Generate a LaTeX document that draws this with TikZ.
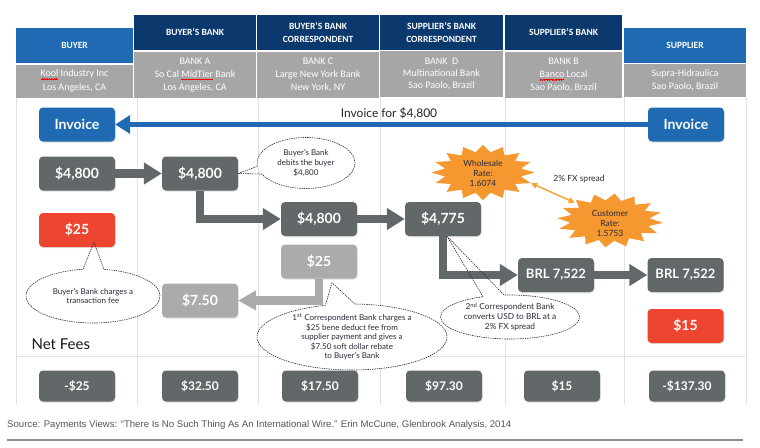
\documentclass[tikz,border=0pt]{standalone}
\usepackage{fontspec}
\setmainfont{Lato}
\newfontfamily\hdrfont{Carlito}
\newfontfamily\srcfont{Liberation Sans}
\usetikzlibrary{arrows.meta,shapes.geometric,shapes.callouts,shadows,calc}
\newsavebox\wbox
\newcommand\redwave[1]{\sbox\wbox{#1}\rlap{\raisebox{-2.6pt}[0pt][0pt]{\color{red}\leaders\hbox{\rule[0pt]{0.6pt}{0.45pt}\rule[0.4pt]{0.6pt}{0.45pt}\rule[0.8pt]{0.6pt}{0.45pt}\rule[0.4pt]{0.6pt}{0.45pt}}\hskip\wd\wbox}}#1}
\definecolor{hblue}{HTML}{1F6AB3}
\definecolor{hnavy}{HTML}{0B396E}
\definecolor{hgray}{HTML}{A6A6A6}
\definecolor{dgray}{HTML}{62676A}
\definecolor{lgray}{HTML}{ABABAB}
\definecolor{fred}{HTML}{EE4530}
\definecolor{sorange}{HTML}{F4982F}
\definecolor{aorange}{HTML}{F2A73C}
\definecolor{gridc}{HTML}{E2E2E2}
\definecolor{ctext}{HTML}{2B2B3B}
\definecolor{srcgray}{HTML}{555555}
\definecolor{rulegray}{HTML}{8C8C8C}
\begin{document}
\begin{tikzpicture}[x=1pt,y=-1pt,
  hdr/.style={rectangle, inner sep=0pt, text=white, align=center,
    font=\hdrfont\bfseries\fontsize{9.5}{13}\selectfont},
  sub/.style={rectangle, fill=hgray, inner sep=0pt, text=white, align=center,
    font=\hdrfont\fontsize{10}{13.3}\selectfont},
  rbox/.style={rounded corners=4pt, minimum width=76pt, minimum height=34pt,
    inner sep=0pt, text=white, font=\bfseries\fontsize{14}{16}\selectfont,
    drop shadow={opacity=0.25, shadow xshift=0.6pt, shadow yshift=-1.2pt}},
  invbox/.style={rbox, fill=hblue},
  gbox/.style={rbox, fill=dgray},
  lgbox/.style={rbox, fill=lgray},
  redbox/.style={rbox, fill=fred},
  netbox/.style={rbox, fill=dgray, minimum height=31pt, font=\bfseries\fontsize{12}{14}\selectfont},
  garrow/.style={draw=dgray, line width=8.5pt, -{Triangle[length=18pt,width=21pt]}},
  lgarrow/.style={draw=lgray, line width=8.5pt, -{Triangle[length=18pt,width=19pt]}},
  barrow/.style={draw=hblue, line width=4.5pt, -{Triangle[length=15pt,width=18pt]}},
  fxarrow/.style={draw=aorange, line width=1.5pt, {Triangle[length=6pt,width=6pt]}-{Triangle[length=6pt,width=6pt]}},
  bubble/.style={ellipse callout, draw=ctext, line width=0.6pt, dash pattern=on 1.4pt off 0.9pt,
    inner sep=0pt, align=center, text=ctext, callout pointer arc=18,
    font=\fontsize{8}{9.6}\selectfont},
  starlbl/.style={ellipse, inner sep=0pt, align=center, text=ctext,
    font=\fontsize{8.5}{10}\selectfont},
  gridline/.style={draw=gridc, line width=0.7pt}
]
\fill[white] (0,0) rectangle (760,447);
\useasboundingbox (0,0) rectangle (760,447);

% grid
\foreach \gx in {16,137,258,380,505,624,746}
  \draw[gridline] (\gx,97) -- (\gx,405);
\draw[gridline] (16,356) -- (746,356);

% header
\node[hdr, fill=hblue, minimum width=117pt, minimum height=35pt] (hbuy) at (74.5,45.5) {BUYER};
\node[sub, minimum width=117pt, minimum height=33pt] (gbuy) at (74.5,81) {\redwave{Kool} Industry Inc\\Los Angeles, CA};
\node[hdr, fill=hnavy, minimum width=122pt, minimum height=35pt] (hbb) at (195,32.5) {BUYER’S BANK};
\node[sub, minimum width=122pt, minimum height=46pt] (gbb) at (195,75) {BANK A\\So Cal \redwave{MidTier} Bank\\Los Angeles, CA};
\node[hdr, fill=hnavy, minimum width=122pt, minimum height=35pt] (hbc) at (318,32.5) {BUYER’S BANK\\CORRESPONDENT};
\node[sub, minimum width=122pt, minimum height=46pt] (gbc) at (318,75) {BANK C\\Large New York Bank\\New York, NY};
\node[hdr, fill=hnavy, minimum width=123pt, minimum height=35pt] (hsc) at (441.5,32.5) {SUPPLIER’S BANK\\CORRESPONDENT};
\node[sub, minimum width=123pt, minimum height=46pt, font=\hdrfont\fontsize{10}{12.3}\selectfont] (gsc) at (441.5,74) {BANK\ \ D\\Multinational Bank\\Sao Paolo, Brazil};
\node[hdr, fill=hnavy, minimum width=117pt, minimum height=35pt] (hsb) at (563.5,32.5) {SUPPLIER’S BANK};
\node[sub, minimum width=117pt, minimum height=46pt] (gsb) at (563.5,75) {BANK B\\\redwave{Banco} Local\\Sao Paolo, Brazil};
\node[hdr, fill=hblue, minimum width=122pt, minimum height=35pt] (hsup) at (685,45.5) {SUPPLIER};
\node[sub, minimum width=122pt, minimum height=33pt] (gsup) at (685,80.5) {Supra-Hidraulica\\Sao Paolo, Brazil};

% stars
\fill[sorange] plot[samples at={0,...,31}]
  ({483+51.5*(1-0.25*mod(\x,2))*cos(\x*11.25)},{172.5+27.5*(1-0.25*mod(\x,2))*sin(\x*11.25)}) -- cycle;
\fill[sorange] plot[samples at={0,...,31}]
  ({610+53*(1-0.25*mod(\x,2))*cos(\x*11.25+5)},{220.5+27*(1-0.25*mod(\x,2))*sin(\x*11.25+5)}) -- cycle;
\node[starlbl, minimum width=103pt, minimum height=55pt] (ws) at (483,173) {Wholesale\\Rate:\\1.6074};
\node[starlbl, minimum width=106pt, minimum height=54pt] (cr) at (610,223) {Customer\\Rate:\\1.5753};
\draw[fxarrow] (ws.-12) -- (cr.150);
\node[text=ctext, font=\fontsize{8.5}{10}\selectfont] (fxl) at (579,179) {2\% FX spread};

% boxes
\node[invbox] (inv1) at (77,124.5) {Invoice};
\node[invbox] (inv2) at (686,124.5) {Invoice};
\node[gbox] (b1) at (77,173.5) {\$4,800};
\node[gbox] (b2) at (200,173.5) {\$4,800};
\node[gbox] (b3) at (319,219) {\$4,800};
\node[gbox] (b4) at (443,219) {\$4,775};
\node[redbox] (r25) at (77,230) {\$25};
\node[lgbox] (lg25) at (319,261.5) {\$25};
\node[lgbox] (s750) at (200,300.5) {\$7.50};
\node[gbox, font=\bfseries\fontsize{13}{16}\selectfont] (brl1) at (556,275) {BRL 7,522};
\node[gbox, font=\bfseries\fontsize{13}{16}\selectfont] (brl2) at (685.5,275) {BRL 7,522};
\node[redbox] (r15) at (685.5,326) {\$15};

% arrows
\draw[barrow] (inv2) -- (inv1);
\node[text=black!85, font=\fontsize{12}{14}\selectfont] (invl) at (389,113) {Invoice for \$4,800};
\draw[garrow] (b1) -- (b2);
\draw[garrow] (b2.south) |- (b3.west);
\draw[garrow] (b3) -- (b4);
\draw[garrow] (b4.south) |- (brl1.west);
\draw[garrow] (brl1) -- (brl2);
\draw[lgarrow] (lg25.south) |- (s750.east);

% callouts
\fill[white] (306,163) ellipse (48.5 and 25);
\node[bubble, minimum width=98pt, minimum height=51pt, font=\fontsize{8}{10}\selectfont,
  callout absolute pointer={(b2.east)}] (c1) at (306,163) {Buyer’s Bank\\debits the buyer\\\$4,800};
\fill[white] (93,296) ellipse (66.5 and 26.5);
\node[bubble, minimum width=134pt, minimum height=54pt,
  callout absolute pointer={($(r25.south)+(17,-5)$)}] (c2) at (93,296) {Buyer’s Bank charges a\\transaction fee};
\fill[white] (352,337) ellipse (94.5 and 32.5);
\node[bubble, minimum width=190pt, minimum height=66pt,
  callout absolute pointer={($(lg25.south)+(13,4)$)}] (c3) at (352,337)
  {1\textsuperscript{st} Correspondent Bank charges a\\\$25 bene deduct fee from\\supplier payment and gives a\\\$7.50 soft dollar rebate\\to Buyer’s Bank};
\fill[white] (510,317) ellipse (69 and 21.5);
\node[bubble, minimum width=139pt, minimum height=44pt, font=\fontsize{8.3}{10}\selectfont,
  callout absolute pointer={($(b4.south)+(4,0)$)}] (c4) at (510,317)
  {2\textsuperscript{nd} Correspondent Bank\\converts USD to BRL at a\\2\% FX spread};

% net fees
\node[anchor=west, text=black!90, font=\fontsize{15}{17}\selectfont] (nf) at (28,344) {Net Fees};
\node[netbox] (n1) at (77,386) {-\$25};
\node[netbox] (n2) at (200,386) {\$32.50};
\node[netbox] (n3) at (320,386) {\$17.50};
\node[netbox] (n4) at (444,386) {\$97.30};
\node[netbox] (n5) at (562,386) {\$15};
\node[netbox] (n6) at (687,386) {-\$137.30};

% source
\node[anchor=west, inner sep=0pt, text=srcgray, font=\srcfont\fontsize{9.6}{11}\selectfont] (src) at (7,425)
  {Source: Payments Views: “There Is No Such Thing As An International Wire.” Erin McCune, Glenbrook Analysis, 2014};
\draw[draw=rulegray, line width=1.6pt] (7,440) -- (743,440);
\end{tikzpicture}
\end{document}
